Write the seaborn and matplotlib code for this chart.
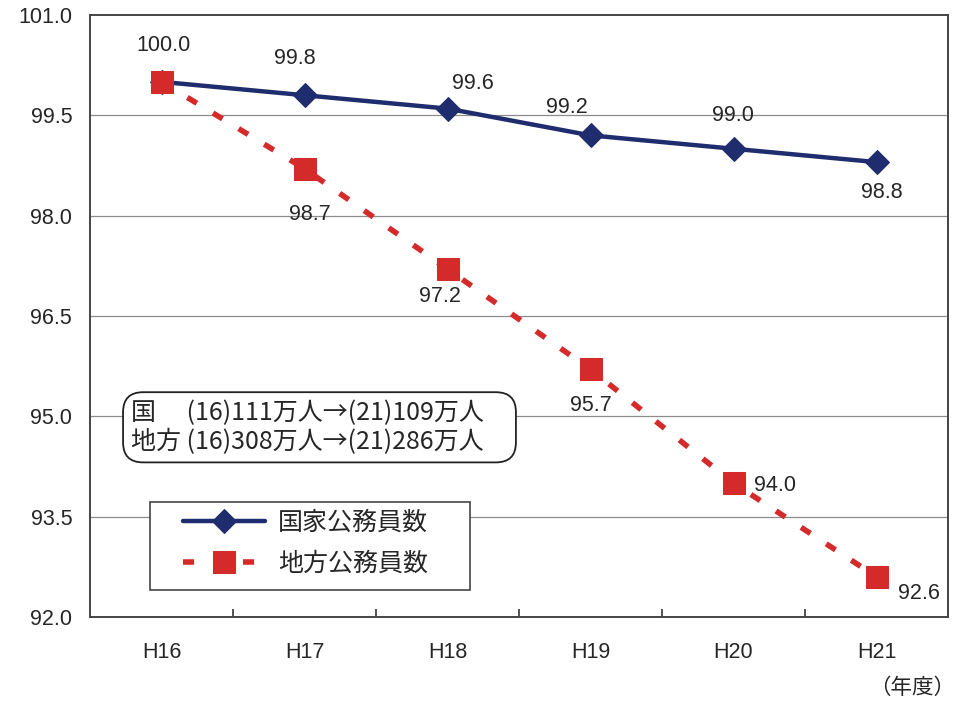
import seaborn as sns
import pandas as pd
import matplotlib.pyplot as plt
from matplotlib.ticker import FixedLocator
from matplotlib.patches import Rectangle

sns.set_theme(style='white')
plt.rcParams['font.family'] = ['Liberation Sans', 'Noto Sans CJK JP', 'DejaVu Sans']

years = ['H16', 'H17', 'H18', 'H19', 'H20', 'H21']
kokka = [100.0, 99.8, 99.6, 99.2, 99.0, 98.8]
chihou = [100.0, 98.7, 97.2, 95.7, 94.0, 92.6]
y_ticks = [92.0, 93.5, 95.0, 96.5, 98.0, 99.5, 101.0]

df = pd.DataFrame({'年度': years, '国家公務員数': kokka, '地方公務員数': chihou})

navy = '#1f2d6e'
red = '#d42a2a'

fig = plt.figure(figsize=(9.6, 7.01), dpi=100)
ax = fig.add_axes([0.094, 0.12, 0.8935, 0.8586])

sns.lineplot(data=df, x='年度', y='国家公務員数', ax=ax, color=navy, lw=3.2,
             marker='D', markersize=12.5, markeredgecolor=navy, label='国家公務員数', zorder=3)
sns.lineplot(data=df, x='年度', y='地方公務員数', ax=ax, color=red, lw=4,
             marker='s', markersize=15.5, markeredgecolor=red, label='地方公務員数', zorder=4)
ax.lines[1].set_dashes([2.0, 3.4])

# value labels (offsets in pixels)
kokka_off = [None, (-10, 37), (25, 25), (-24, 28), (-1, 33), (5, -30)]
chihou_off = [(2, 36), (5, -46), (-8, -27), (0, -36), (41, -2), (42, -17)]
for i, v in enumerate(kokka):
    if kokka_off[i] is None:
        continue
    ax.annotate(f'{v:.1f}', (i, v), xytext=kokka_off[i], textcoords='offset pixels',
                ha='center', va='center', fontsize=15.5)
for i, v in enumerate(chihou):
    ax.annotate(f'{v:.1f}', (i, v), xytext=chihou_off[i], textcoords='offset pixels',
                ha='center', va='center', fontsize=15.5)

ax.set_xlim(-0.5, 5.5)
ax.set_ylim(92.0, 101.0)
ax.set_yticks(y_ticks)
ax.set_yticklabels([f'{t:.1f}' for t in y_ticks], fontsize=15.5)
ax.set_xticks(range(len(years)))
ax.set_xticklabels(years, fontsize=15.5)
ax.xaxis.set_minor_locator(FixedLocator([0.5, 1.5, 2.5, 3.5, 4.5]))
ax.tick_params(axis='x', which='major', length=0, pad=18)
ax.tick_params(axis='x', which='minor', direction='in', length=6, width=1.2, color='#333333', bottom=True)
ax.tick_params(axis='y', length=0, pad=13)
ax.set_xlabel('')
ax.set_ylabel('')

for y in y_ticks[1:-1]:
    ax.axhline(y, color='#8c8c8c', lw=0.9, zorder=0)
for s in ax.spines.values():
    s.set_color('#444444')
    s.set_linewidth(1.4)

ax.text(0.047, 0.315, '国\u3000 (16)111万人→(21)109万人\u3000\n地方 (16)308万人→(21)286万人\u3000',
        transform=ax.transAxes, fontsize=18, va='center', ha='left', linespacing=1.15,
        family=['Noto Sans CJK JP', 'DejaVu Sans'],
        bbox=dict(boxstyle='round,pad=0.3,rounding_size=0.8', fc='white', ec='#222222', lw=1.3))

# legend without frame, frame drawn as a rectangle
leg = ax.legend(loc='upper left', bbox_to_anchor=(0.108, 0.178), frameon=False,
                handlelength=3.3, handletextpad=0.5, borderpad=0, labelspacing=0.6,
                borderaxespad=0, prop={'family': ['Noto Sans CJK JP'], 'size': 18})
ax.add_patch(Rectangle((0.070, 0.045), 0.373, 0.146, transform=ax.transAxes,
                       fill=True, fc='white', ec='#444444', lw=1.2, zorder=5))
leg.set_zorder(6)

fig.text(0.995, 0.003, '（年度）', ha='right', va='bottom', fontsize=15.5)

plt.savefig('out.png', dpi=100)
